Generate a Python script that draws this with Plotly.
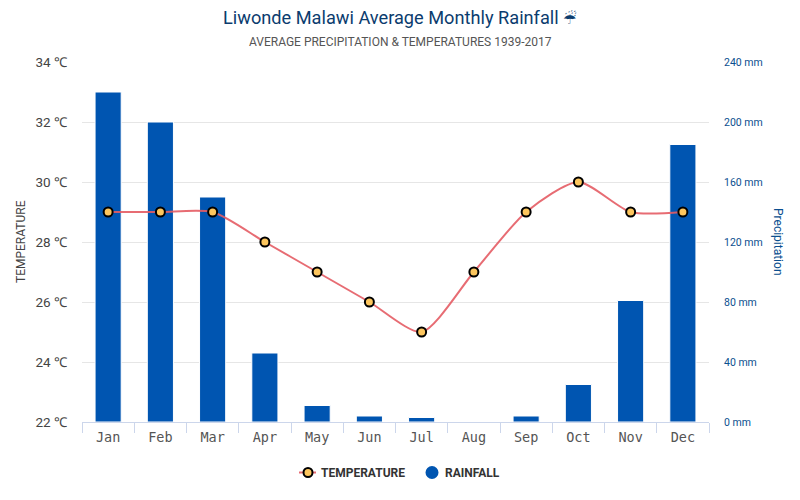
import plotly.graph_objects as go

months = ["Jan", "Feb", "Mar", "Apr", "May", "Jun", "Jul", "Aug", "Sep", "Oct", "Nov", "Dec"]
temperature = [29, 29, 29, 28, 27, 26, 25, 27, 29, 30, 29, 29]
rainfall = [220, 200, 150, 46, 11, 4, 3, 0, 4, 25, 81, 185]

BLUE = "#0055b1"
LINE = "rgba(228,92,100,0.9)"
NAVY = "#0b3c6e"
GRID = "#e6e6e6"
AXIS = "#ccd6eb"
RIGHT = "#0b4f8f"

# The page body adds an 8 px margin, so the figure is 792x492.
W, H = 792, 492
L, R, T, B = 74, 91, 54, 78
PW, PH = W - L - R, H - T - B
def px(x):
    return (x - 8 - L) / PW
def py(y):
    return 1 - (y - 8 - T) / PH

fig = go.Figure()
fig.add_trace(go.Bar(
    x=months, y=rainfall, yaxis="y2", width=0.5, name="RAINFALL", showlegend=False,
    marker=dict(color=BLUE, line=dict(color="white", width=1)),
))
fig.add_trace(go.Scatter(
    x=months, y=temperature, yaxis="y", name="TEMPERATURE", mode="lines+markers", showlegend=False,
    line=dict(color=LINE, width=2, shape="spline", smoothing=0.7),
    marker=dict(size=9, color="#fdc65e", line=dict(color="black", width=2)),
))

def label(text, x, y, size, color, anchor="center", angle=0, family="Roboto", weight="normal"):
    return dict(text=text, xref="paper", yref="paper", x=px(x), y=py(y), xanchor=anchor, yanchor="middle",
                showarrow=False, textangle=angle, font=dict(family=family, size=size, color=color, weight=weight))

shapes = [
    dict(type="line", xref="paper", yref="paper", x0=px(299), x1=px(316), y0=py(472.5), y1=py(472.5),
         line=dict(color=LINE, width=2)),
    dict(type="circle", xref="paper", yref="paper", x0=px(303.5), x1=px(312.5), y0=py(468), y1=py(477),
         fillcolor="#fdc65e", line=dict(color="black", width=2)),
    dict(type="circle", xref="paper", yref="paper", x0=px(425.5), x1=px(438.5), y0=py(466), y1=py(479),
         fillcolor=BLUE, line=dict(width=0)),
]

fig.update_layout(
    width=W, height=H, autosize=False,
    margin=dict(l=L, r=R, t=T, b=B),
    paper_bgcolor="white", plot_bgcolor="white",
    font=dict(family="Roboto", color="#333333"),
    showlegend=False,
    shapes=shapes,
    annotations=[
        label("Liwonde Malawi Average Monthly Rainfall <span style='font-family:DejaVu Sans;font-size:15px'>\u2614\ufe0e</span>",
              400, 17, 18.2, NAVY),
        label("AVERAGE PRECIPITATION & TEMPERATURES 1939-2017", 400, 42, 12, "#555555"),
        label("Precipitation", 778, 242, 12, RIGHT, angle=90),
        label("TEMPERATURE", 319, 473, 12, "#333333", anchor="left", weight="bold"),
        label("RAINFALL", 443, 473, 12, "#333333", anchor="left", weight="bold"),
        label("TEMPERATURE", 21, 242, 12, "#444444", angle=-90),
    ],
    xaxis=dict(
        type="category", categoryorder="array", categoryarray=months, automargin=False,
        range=[-0.5, 11.5], tickson="boundaries", ticks="outside", ticklen=10, tickwidth=1,
        tickcolor=AXIS, showline=True, linecolor=AXIS, linewidth=1, showgrid=False,
        tickfont=dict(family="DejaVu Sans Mono", size=13.5, color="#555555"),
        ticklabelstandoff=3,
    ),
    yaxis=dict(
        overlaying="y2", side="left", range=[22, 34], dtick=2, tick0=22, ticksuffix=" \u2103",
        showgrid=False, zeroline=False, ticklabelstandoff=14, automargin=False,
        tickfont=dict(family="Roboto", size=13.5, color="#444444"),
    ),
    yaxis2=dict(
        side="right", range=[0, 240], dtick=40, tick0=0, ticksuffix=" mm", automargin=False,
        showgrid=True, gridcolor=GRID, gridwidth=1, zeroline=False, ticklabelstandoff=14,
        tickfont=dict(family="Roboto", size=10.5, color=RIGHT),
    ),
)
fig.write_html("out.html")
